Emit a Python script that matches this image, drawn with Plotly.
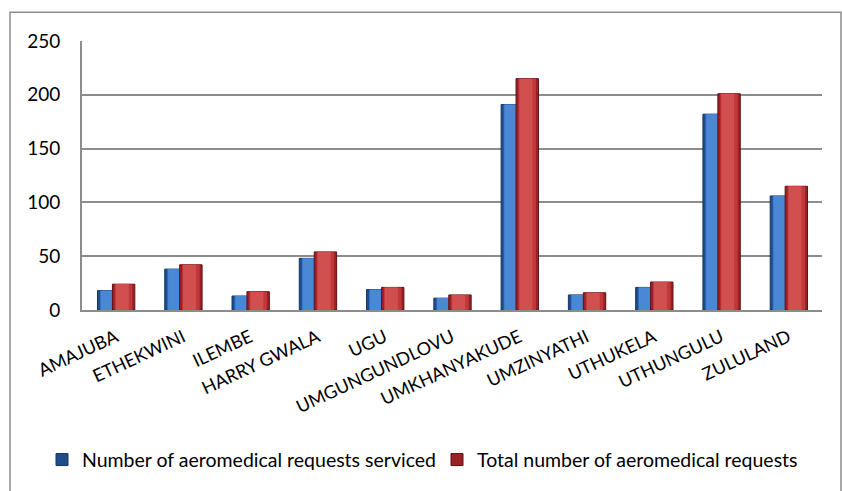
import plotly.graph_objects as go

# KwaZulu-Natal districts and aeromedical request counts
districts = ["AMAJUBA", "ETHEKWINI", "ILEMBE", "HARRY GWALA", "UGU",
             "UMGUNGUNDLOVU", "UMKHANYAKUDE", "UMZINYATHI", "UTHUKELA",
             "UTHUNGULU", "ZULULAND"]
serviced = [18, 38, 13, 48, 19, 11, 191, 14, 21, 182, 106]
total_requests = [24, 42, 17, 54, 21, 14, 215, 16, 26, 201, 115]

series_names = ["Number of aeromedical requests serviced",
                "Total number of aeromedical requests"]
y_ticks = [0, 50, 100, 150, 200, 250]

FONT = "Lato, 'Open Sans', sans-serif"

W, H = 842, 491
ML, MR, MT, MB = 82, 20, 41, 179
PW, PH = W - ML - MR, H - MT - MB

fig = go.Figure()

# Each series is drawn as stacked layers of shrinking width to give the
# bars a shaded, rounded look: dark edge -> body -> highlight.
styles = [
    dict(values=serviced, name=series_names[0], offset=-0.27, width=0.333,
         layers=[("#1f4d8c", "#16365f"), ("#3470c0", None), ("#4a88d6", None)]),
    dict(values=total_requests, name=series_names[1], offset=-0.048, width=0.333,
         layers=[("#9a2226", "#5e1012"), ("#c2373a", None), ("#d24f50", None)]),
]

for st in styles:
    for i, (fill, edge) in enumerate(st["layers"]):
        shrink = [0.0, 0.22, 0.42][i]
        w = st["width"] * (1 - shrink)
        off = st["offset"] + (st["width"] - w) / 2 - (0.02 if i == 2 else 0.0)
        fig.add_trace(go.Bar(
            x=list(range(len(districts))),
            y=st["values"],
            name=st["name"],
            showlegend=(i == 0),
            legendgroup=st["name"],
            offset=off,
            width=w,
            marker=dict(color=fill,
                        line=dict(color=edge if edge else fill,
                                  width=1 if edge else 0)),
            hoverinfo="skip" if i else None,
        ))


def px_to_paper_x(px):
    return (px - ML) / PW


def px_to_paper_y(py):
    return (H - MB - py) / PH


# Outer chart border
fig.add_shape(type="rect", xref="paper", yref="paper",
              x0=px_to_paper_x(10), x1=px_to_paper_x(841),
              y0=px_to_paper_y(495), y1=px_to_paper_y(12),
              line=dict(color="#8c8c8c", width=1.5), fillcolor="rgba(0,0,0,0)",
              layer="below")

fig.update_layout(
    width=W, height=H,
    margin=dict(l=ML, r=MR, t=MT, b=MB),
    paper_bgcolor="white", plot_bgcolor="white",
    barmode="overlay",
    font=dict(family=FONT, size=18, color="#000000"),
    xaxis=dict(
        tickmode="array",
        tickvals=list(range(len(districts))),
        ticktext=districts,
        range=[-0.5, len(districts) - 0.5],
        tickangle=-25,
        showline=True, linecolor="#8c8c8c", linewidth=2,
        showgrid=False, ticks="",
        ticklabelstandoff=8,
        tickfont=dict(family=FONT, size=18, color="#000000"),
    ),
    yaxis=dict(
        range=[0, 250],
        tickvals=y_ticks,
        showgrid=True, gridcolor="#8c8c8c", gridwidth=2,
        showline=True, linecolor="#8c8c8c", linewidth=2,
        zeroline=False, ticks="",
        ticklabelstandoff=16,
        tickfont=dict(family=FONT, size=19, color="#000000"),
    ),
    legend=dict(
        orientation="h",
        x=px_to_paper_x(42), xanchor="left",
        y=px_to_paper_y(463), yanchor="middle",
        font=dict(family=FONT, size=19.5, color="#000000"),
        itemwidth=30,
        entrywidth=350, entrywidthmode="pixels",
        bgcolor="rgba(0,0,0,0)",
    ),
)

fig.write_html("out.html")
